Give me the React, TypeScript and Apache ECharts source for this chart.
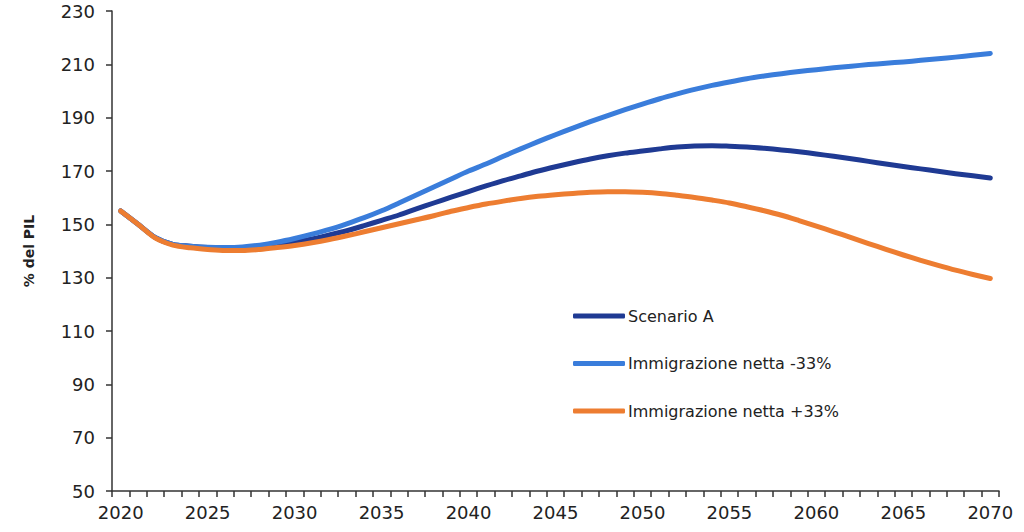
import React, { useEffect, useRef } from "react";
import * as echarts from "echarts";

const years: string[] = [];
for (let y = 2020; y <= 2070; y++) years.push(String(y));

const seriesNames = ["Scenario A", "Immigrazione netta -33%", "Immigrazione netta +33%"];

const scenarioA = [
  155, 150, 145, 142.5, 141.8, 141.3, 141, 141, 141.5, 142.3,
  143.3, 144.5, 146, 147.6, 149.5, 151.5, 153.5, 155.8, 158, 160.2,
  162.3, 164.4, 166.4, 168.2, 170, 171.6, 173.1, 174.5, 175.7, 176.7,
  177.5, 178.3, 179, 179.4, 179.5, 179.3, 179, 178.5, 177.9, 177.2,
  176.4, 175.5, 174.6, 173.6, 172.6, 171.7, 170.8, 169.9, 169, 168.2,
  167.4,
];

const immigrMinus = [
  155, 150, 145, 142.5, 141.8, 141.4, 141.3, 141.5, 142.2, 143.3,
  144.7, 146.3, 148.1, 150.2, 152.5, 155.1, 158, 161, 164, 167,
  170, 172.6, 175.5, 178.3, 181, 183.6, 186.1, 188.5, 190.8, 193,
  195.1, 197.1, 198.9, 200.6, 202.1, 203.4, 204.6, 205.6, 206.5, 207.3,
  208, 208.7, 209.3, 209.9, 210.4, 210.9, 211.5, 212.1, 212.7, 213.4,
  214.1,
];

const immigrPlus = [
  155, 150, 144.8, 142.2, 141.2, 140.6, 140.2, 140.2, 140.6, 141.3,
  142.1, 143.1, 144.3, 145.7, 147.2, 148.7, 150.2, 151.7, 153.2, 154.9,
  156.3, 157.6, 158.7, 159.7, 160.5, 161.1, 161.6, 162, 162.2, 162.2,
  162, 161.6, 160.9, 160.1, 159.1, 158, 156.6, 155.1, 153.4, 151.4,
  149.3, 147.2, 145, 142.8, 140.6, 138.5, 136.5, 134.6, 132.8, 131.2,
  129.7,
];

const colors = ["#1F3A93", "#3A7DDB", "#ED7D31"];
const FONT = "DejaVu Sans";

export default function App() {
  const ref = useRef<HTMLDivElement>(null);
  useEffect(() => {
    if (!ref.current) return;
    const chart = echarts.init(ref.current, undefined, { renderer: "svg" });
    const dataSets = [scenarioA, immigrMinus, immigrPlus];
    chart.setOption({
      animation: false,
      backgroundColor: "#ffffff",
      grid: { left: 112, right: 25, top: 11, bottom: 41, containLabel: false },
      legend: {
        orient: "vertical",
        left: 568,
        top: 303,
        itemWidth: 52,
        itemHeight: 5,
        itemGap: 31.5,
        icon: "roundRect",
        textStyle: { fontFamily: FONT, fontSize: 16, color: "#222", padding: [0, 0, 0, -2] },
        data: seriesNames,
      },
      xAxis: {
        type: "category",
        data: years,
        boundaryGap: true,
        axisLine: { lineStyle: { color: "#333", width: 1.5 } },
        axisTick: { show: true, interval: 0, length: 6, lineStyle: { color: "#333", width: 1.5 } },
        axisLabel: { interval: 4, fontFamily: FONT, fontSize: 18, color: "#222", margin: 12 },
        splitLine: { show: false },
      },
      yAxis: {
        type: "value",
        min: 50,
        max: 230,
        interval: 20,
        name: "% del PIL",
        nameLocation: "middle",
        nameRotate: 90,
        nameGap: 76,
        nameTextStyle: { fontFamily: FONT, fontSize: 14, fontWeight: "bold", color: "#222" },
        axisLine: { show: true, lineStyle: { color: "#333", width: 1.5 } },
        axisTick: { show: true, length: 6, lineStyle: { color: "#333", width: 1.5 } },
        axisLabel: { fontFamily: FONT, fontSize: 18, color: "#222", margin: 17 },
        splitLine: { show: false },
      },
      series: seriesNames.map((name, i) => ({
        name,
        type: "line",
        data: dataSets[i],
        symbol: "none",
        smooth: 0.3,
        color: colors[i],
        lineStyle: { width: 5, color: colors[i], cap: "round", join: "round" },
        z: 2 + i,
      })),
    });
    return () => chart.dispose();
  }, []);
  return <div ref={ref} style={{ width: 1024, height: 532, position: "absolute", left: 0, top: 0 }} />;
}
